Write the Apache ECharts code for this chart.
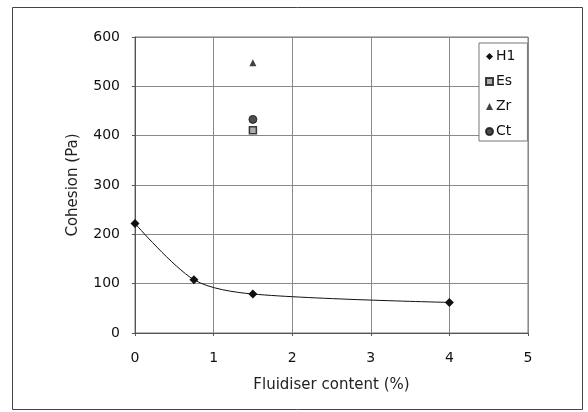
<!DOCTYPE html>
<html>
<head>
<meta charset="utf-8">
<script src="https://cdn.jsdelivr.net/npm/echarts@6/dist/echarts.min.js"></script>
<style>
html,body{margin:0;padding:0;background:#fff;}
#c{width:588px;height:412px;}
</style>
</head>
<body>
<div id="c"></div>
<script>
// Data
const seriesNames = ['H1', 'Es', 'Zr', 'Ct'];
const h1Data = [[0, 222], [0.75, 108], [1.5, 79], [4, 62]];
const esData = [[1.5, 411]];
const zrData = [[1.5, 548]];
const ctData = [[1.5, 433]];
const xTicks = [0, 1, 2, 3, 4, 5];
const yTicks = [0, 100, 200, 300, 400, 500, 600];

const font = 'DejaVu Sans, Arial, sans-serif';
const chart = echarts.init(document.getElementById('c'));
chart.setOption({
  animation: false,
  backgroundColor: '#fff',
  graphic: [{
    type: 'rect',
    shape: { x: 12.5, y: 7.5, width: 570, height: 402 },
    style: { fill: 'none', stroke: '#444', lineWidth: 1 },
    z: -1
  }],
  grid: { left: 135, right: 60, top: 37, bottom: 79, show: true, borderColor: '#777', borderWidth: 1 },
  xAxis: {
    type: 'value', min: xTicks[0], max: xTicks[xTicks.length - 1], interval: 1,
    name: 'Fluidiser content (%)', nameLocation: 'middle', nameGap: 45,
    nameTextStyle: { fontFamily: font, fontSize: 15, color: '#222' },
    axisLine: { show: true, lineStyle: { color: '#555' } },
    axisTick: { show: true, length: 3, inside: false, lineStyle: { color: '#555' } },
    axisLabel: { fontFamily: font, fontSize: 14, color: '#111', margin: 18 },
    splitLine: { show: true, lineStyle: { color: '#888', width: 1 } }
  },
  yAxis: {
    type: 'value', min: yTicks[0], max: yTicks[yTicks.length - 1], interval: 100,
    name: 'Cohesion (Pa)', nameLocation: 'middle', nameGap: 54, nameRotate: 90,
    nameTextStyle: { fontFamily: font, fontSize: 15, color: '#222' },
    axisLine: { show: true, lineStyle: { color: '#555' } },
    axisTick: { show: true, length: 3, lineStyle: { color: '#555' } },
    axisLabel: { fontFamily: font, fontSize: 14, color: '#111', margin: 15 },
    splitLine: { show: true, lineStyle: { color: '#888', width: 1 } }
  },
  legend: {
    orient: 'vertical', left: 479, top: 43,
    backgroundColor: '#fff', borderColor: '#777', borderWidth: 1,
    padding: [6, 12, 2, 6],
    itemWidth: 7, itemHeight: 7, itemGap: 10,
    textStyle: { fontFamily: font, fontSize: 14, color: '#111', lineHeight: 15, padding: [0, 0, 0, -2] },
    data: [
      { name: 'H1', icon: 'diamond' },
      { name: 'Es', icon: 'rect' },
      { name: 'Zr', icon: 'triangle' },
      { name: 'Ct', icon: 'circle' }
    ]
  },
  series: [
    {
      name: seriesNames[0], type: 'line', data: h1Data, smooth: 0.3,
      symbol: 'diamond', symbolSize: 9,
      lineStyle: { color: '#111', width: 1 },
      itemStyle: { color: '#111' }
    },
    {
      name: seriesNames[1], type: 'scatter', data: esData, symbol: 'rect', symbolSize: 7,
      itemStyle: { color: '#999', borderColor: '#111', borderWidth: 1.5 }
    },
    {
      name: seriesNames[2], type: 'scatter', data: zrData, symbol: 'triangle', symbolSize: 7,
      itemStyle: { color: '#111' }
    },
    {
      name: seriesNames[3], type: 'scatter', data: ctData, symbol: 'circle', symbolSize: 8,
      itemStyle: { color: '#222', borderColor: '#111', borderWidth: 1 }
    }
  ]
});
</script>
</body>
</html>
